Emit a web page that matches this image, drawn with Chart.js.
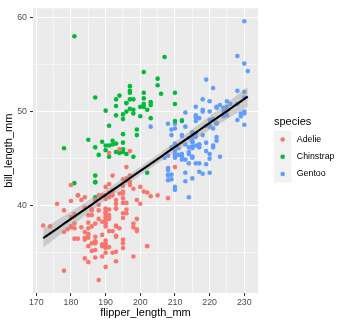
<!DOCTYPE html>
<html>
<head>
<meta charset="utf-8">
<script src="https://cdn.jsdelivr.net/npm/chart.js@4.4.0/dist/chart.umd.min.js"></script>
<style>
  html, body { margin: 0; padding: 0; background: #fff; }
  #wrap { width: 345px; height: 324px; }
</style>
</head>
<body>
<div id="wrap"><canvas id="chart" width="345" height="324"></canvas></div>
<script>
// Palmer penguins: flipper_length_mm (x) vs bill_length_mm (y)
const species = ['Adelie', 'Chinstrap', 'Gentoo'];
const speciesColors = ['#F8766D', '#00BA38', '#619CFF'];

const adelieFlipper = [181,186,195,193,190,181,195,193,190,186,180,182,191,198,185,195,197,184,194,174,
  180,189,185,180,187,183,187,172,180,178,178,188,184,195,196,190,180,181,184,182,195,186,196,185,190,
  182,179,190,191,186,188,190,200,187,191,186,193,181,194,185,195,185,192,184,192,195,188,190,198,190,
  190,196,197,190,195,191,184,187,195,189,196,187,193,191,194,190,189,189,190,202,205,185,186,187,208,
  190,196,178,192,192,203,183,190,193,184,199,190,181,197,198,191,193,197,191,196,188,199,189,189,187,
  198,176,202,186,199,191,195,191,210,190,197,193,199,187,190,191,200,185,193,193,187,188,190,192,185,
  190,184,195,193,187,201];
const adelieBill = [39.1,39.5,40.3,36.7,39.3,38.9,39.2,34.1,42.0,37.8,37.8,41.1,38.6,34.6,36.6,38.7,42.5,34.4,46.0,37.8,
  37.7,35.9,38.2,38.8,35.3,40.6,40.5,37.9,40.5,39.5,37.2,39.5,40.9,36.4,39.2,38.8,42.2,37.6,39.8,36.5,40.8,36.0,44.1,37.0,39.6,
  41.1,37.5,36.0,42.3,39.6,40.1,35.0,42.0,34.5,41.4,39.0,40.6,36.5,37.6,35.7,41.3,37.6,41.1,36.4,41.6,35.5,41.1,35.9,41.8,33.5,
  39.7,39.6,45.8,35.5,42.8,40.9,37.2,36.2,42.1,34.6,42.9,36.7,35.1,37.3,41.3,36.3,36.9,38.3,38.9,35.7,41.1,34.0,39.6,36.2,40.8,
  38.1,40.3,33.1,43.2,35.0,41.0,37.7,37.8,37.9,39.7,38.6,38.2,38.1,43.2,38.1,45.6,39.7,42.2,39.6,42.7,38.6,37.3,35.7,41.1,36.2,
  37.7,40.2,41.4,35.2,40.6,38.8,41.5,39.0,44.1,38.5,43.1,36.8,37.5,38.1,41.1,35.6,40.2,37.0,39.7,40.2,40.6,32.1,40.7,37.3,39.0,
  39.2,36.6,36.0,37.8,36.0,41.5];

const chinstrapFlipper = [192,196,193,188,197,198,178,197,195,198,193,194,185,201,190,201,197,181,190,195,
  181,191,187,193,195,197,200,200,191,205,187,201,187,203,195,199,195,210,192,205,210,187,196,196,196,
  201,190,212,187,198,199,201,193,203,187,197,191,203,202,194,206,189,195,207,202,193,210,198];
const chinstrapBill = [46.5,50.0,51.3,45.4,52.7,45.2,46.1,51.3,46.0,51.3,46.6,51.7,47.0,52.0,45.9,50.5,50.3,58.0,46.4,49.2,
  42.4,48.5,43.2,50.6,46.7,52.0,50.5,49.5,46.4,52.8,40.9,54.2,42.5,51.0,49.7,47.5,47.6,52.0,46.9,53.5,49.0,46.2,50.9,45.5,50.9,
  50.8,50.1,49.0,51.5,49.8,48.1,51.4,45.7,50.7,42.5,52.2,45.2,49.3,50.2,45.6,51.9,46.8,45.7,55.8,43.5,49.6,50.8,50.2];

const gentooFlipper = [211,230,210,218,215,210,211,219,209,215,214,216,214,213,210,217,210,221,209,222,
  218,215,213,215,215,215,216,215,210,220,222,209,207,230,220,220,213,219,208,208,208,225,210,216,222,
  217,210,225,213,215,210,220,210,225,217,220,208,220,208,224,208,221,214,231,219,230,214,229,220,223,
  216,221,221,217,216,230,209,220,215,223,212,221,212,224,212,228,218,218,212,230,218,228,212,224,214,
  226,216,222,203,225,219,228,215,228,216,215,210,219,208,209,216,229,213,230,217,230,217,222,214,215,
  222,212,213];
const gentooBill = [46.1,50.0,48.7,50.0,47.6,46.5,45.4,46.7,43.3,46.8,40.9,49.0,45.5,48.4,45.8,49.3,42.0,49.2,46.2,48.7,
  50.2,45.1,46.5,46.3,42.9,46.1,44.5,47.8,48.2,50.0,47.3,42.8,45.1,59.6,49.1,48.4,42.6,44.4,44.0,48.7,42.7,49.6,45.3,49.6,50.5,
  43.6,45.5,50.5,44.9,45.2,46.6,48.5,45.1,50.1,46.5,45.0,43.8,45.5,43.2,50.4,45.3,46.2,45.7,54.3,45.8,49.8,46.2,49.5,43.5,50.7,
  47.7,46.4,48.2,46.5,46.4,48.6,47.5,51.1,45.2,45.2,49.1,52.5,47.4,50.0,44.9,50.8,43.4,51.3,47.5,52.1,47.5,52.2,45.5,49.5,44.5,
  50.8,49.4,46.9,48.4,51.1,48.5,55.9,47.2,49.1,47.3,46.8,41.7,53.4,43.3,48.1,50.5,49.8,43.5,51.5,46.2,55.1,44.5,48.8,47.2,46.8,
  50.4,45.2,49.9];

const xTicks = [170, 180, 190, 200, 210, 220, 230];
const yTicks = [40, 50, 60];

const flipperBySpecies = [adelieFlipper, chinstrapFlipper, gentooFlipper];
const billBySpecies = [adelieBill, chinstrapBill, gentooBill];

// linear fit of bill on flipper over all penguins, with 95% band
const allX = [].concat(...flipperBySpecies);
const allY = [].concat(...billBySpecies);
const n = allX.length;
const xMean = allX.reduce((a, b) => a + b, 0) / n;
const yMean = allY.reduce((a, b) => a + b, 0) / n;
let sxx = 0, sxy = 0;
for (let i = 0; i < n; i++) {
  sxx += (allX[i] - xMean) ** 2;
  sxy += (allX[i] - xMean) * (allY[i] - yMean);
}
const slope = sxy / sxx;
const intercept = yMean - slope * xMean;
let sse = 0;
for (let i = 0; i < n; i++) sse += (allY[i] - intercept - slope * allX[i]) ** 2;
const sigma = Math.sqrt(sse / (n - 2));
const tCrit = 1.967;
const xMin = Math.min(...allX), xMax = Math.max(...allX);
const fitLine = [], bandLow = [], bandHigh = [];
for (let k = 0; k <= 80; k++) {
  const x = xMin + (xMax - xMin) * k / 80;
  const y = intercept + slope * x;
  const se = sigma * Math.sqrt(1 / n + (x - xMean) ** 2 / sxx);
  fitLine.push({ x, y });
  bandLow.push({ x, y: y - tCrit * se });
  bandHigh.push({ x, y: y + tCrit * se });
}

const yMinData = Math.min(...allY), yMaxData = Math.max(...allY);
const xPad = (xMax - xMin) * 0.05, yPad = (yMaxData - yMinData) * 0.05;

const pointSets = species.map((name, s) => ({
  type: 'scatter',
  label: name,
  data: flipperBySpecies[s].map((x, i) => ({ x, y: billBySpecies[s][i] })),
  backgroundColor: speciesColors[s],
  borderWidth: 0,
  pointRadius: 2.3,
  order: 3
}));

// ggplot-like legend on the right
const ggLegend = {
  id: 'ggLegend',
  afterDraw(chart) {
    const ctx = chart.ctx;
    const left = 274, key = 17.28, top = 130.8;
    ctx.save();
    ctx.fillStyle = '#000';
    ctx.font = '11px "Liberation Sans", Arial, sans-serif';
    ctx.textBaseline = 'middle';
    ctx.textAlign = 'left';
    ctx.fillText('species', left, 122);
    species.forEach((name, s) => {
      const y = top + s * key;
      ctx.fillStyle = '#F2F2F2';
      ctx.fillRect(left, y, key, key);
      ctx.fillStyle = speciesColors[s];
      ctx.beginPath();
      ctx.arc(left + key / 2, y + key / 2, 2.3, 0, Math.PI * 2);
      ctx.fill();
      ctx.fillStyle = '#000';
      ctx.font = '8.8px "Liberation Sans", Arial, sans-serif';
      ctx.fillText(name, left + key + 5.5, y + key / 2);
    });
    ctx.restore();
  }
};

// grey panel background
const panelBg = {
  id: 'panelBg',
  beforeDraw(chart) {
    const a = chart.chartArea;
    chart.ctx.save();
    chart.ctx.fillStyle = '#EBEBEB';
    chart.ctx.fillRect(a.left, a.top, a.right - a.left, a.bottom - a.top);
    chart.ctx.restore();
  }
};

const isMajor = (v, list) => list.includes(v);

new Chart(document.getElementById('chart'), {
  type: 'scatter',
  data: {
    datasets: [
      {
        type: 'line', label: 'fit', data: fitLine,
        borderColor: '#000000', borderWidth: 2.1, pointRadius: 0, fill: false, order: 1
      },
      {
        type: 'line', label: 'low', data: bandLow,
        borderWidth: 0, borderColor: 'rgba(0,0,0,0)', pointRadius: 0, fill: false, order: 2
      },
      {
        type: 'line', label: 'high', data: bandHigh,
        borderWidth: 0, borderColor: 'rgba(0,0,0,0)', pointRadius: 0,
        fill: '-1', backgroundColor: 'rgba(153,153,153,0.4)', order: 2
      },
      ...pointSets
    ]
  },
  options: {
    responsive: false,
    animation: false,
    layout: { padding: { top: 5, right: 87, bottom: 0, left: 0 } },
    plugins: { legend: { display: false }, tooltip: { enabled: false } },
    scales: {
      x: {
        type: 'linear',
        min: xMin - xPad,
        max: xMax + xPad,
        afterBuildTicks(scale) {
          const t = [];
          for (let v = 170; v <= 230; v += 5) t.push({ value: v });
          scale.ticks = t;
        },
        afterFit(scale) { scale.height = 31; },
        border: { display: false },
        grid: {
          color: '#FFFFFF',
          lineWidth: ctx => isMajor(ctx.tick.value, xTicks) ? 1.07 : 0.53,
          tickColor: ctx => isMajor(ctx.tick.value, xTicks) ? '#333333' : 'rgba(0,0,0,0)',
          tickLength: 3,
          tickWidth: 1.07
        },
        ticks: {
          autoSkip: false,
          maxRotation: 0,
          padding: 1,
          color: '#4D4D4D',
          font: { family: '"Liberation Sans", Arial, sans-serif', size: 8.8 },
          callback: v => isMajor(v, xTicks) ? String(v) : ''
        },
        title: {
          display: true,
          text: 'flipper_length_mm',
          color: '#000',
          font: { family: '"Liberation Sans", Arial, sans-serif', size: 11 },
          padding: { top: 0, bottom: 4.5 }
        }
      },
      y: {
        type: 'linear',
        min: yMinData - yPad,
        max: yMaxData + yPad,
        afterBuildTicks(scale) {
          const t = [];
          for (let v = 35; v <= 60; v += 5) t.push({ value: v });
          scale.ticks = t;
        },
        afterFit(scale) { scale.width = 33; },
        border: { display: false },
        grid: {
          color: '#FFFFFF',
          lineWidth: ctx => isMajor(ctx.tick.value, yTicks) ? 1.07 : 0.53,
          tickColor: ctx => isMajor(ctx.tick.value, yTicks) ? '#333333' : 'rgba(0,0,0,0)',
          tickLength: 3,
          tickWidth: 1.07
        },
        ticks: {
          autoSkip: false,
          padding: 3,
          color: '#4D4D4D',
          font: { family: '"Liberation Sans", Arial, sans-serif', size: 8.8 },
          callback: v => isMajor(v, yTicks) ? String(v) : ''
        },
        title: {
          display: true,
          text: 'bill_length_mm',
          color: '#000',
          font: { family: '"Liberation Sans", Arial, sans-serif', size: 11 },
          padding: { top: 2.4, bottom: 0 }
        }
      }
    }
  },
  plugins: [panelBg, ggLegend]
});
</script>
</body>
</html>
